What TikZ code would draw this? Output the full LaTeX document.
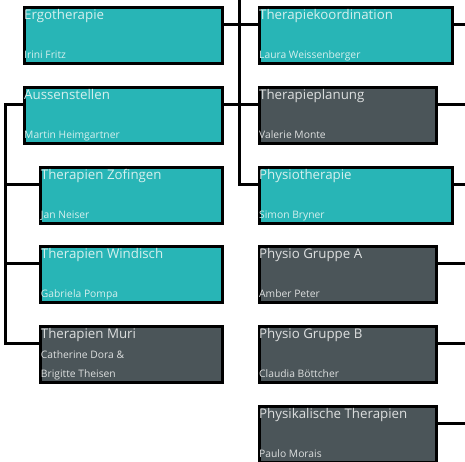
\documentclass[tikz,border=0pt]{standalone}
\usepackage{fontspec}
\setmainfont{Open Sans}
\definecolor{cTeal}{RGB}{40,181,182}
\definecolor{cGray}{RGB}{75,85,89}
\definecolor{cTealTxt}{RGB}{214,240,238}
\definecolor{cGrayTxt}{RGB}{222,224,224}
\tikzset{
  box/.style={draw=black, line width=3pt, rectangle, minimum height=56pt, inner sep=0pt, anchor=north west},
  tealbox/.style={fill=cTeal},
  graybox/.style={fill=cGray},
  tealtxt/.style={text=cTealTxt},
  graytxt/.style={text=cGrayTxt},
  titletxt/.style={anchor=base west, inner sep=0pt, font=\fontsize{13.3}{15}\selectfont},
  subtxt/.style={anchor=base west, inner sep=0pt, font=\fontsize{10.3}{12}\selectfont},
  conn/.style={line width=3pt, draw=black, line join=miter},
}
\newcommand\orgbox[7]{%
  \node[box,#5box,minimum width=#4pt] (#1) at (#2,#3) {};
  \node[titletxt,#5txt] (#1-t) at ([xshift=1.5pt,yshift=-13.5pt]#1.north west) {#6};
  \node[subtxt,#5txt] (#1-s) at ([xshift=1.5pt,yshift=-52.5pt]#1.north west) {#7};
}
\begin{document}
\begin{tikzpicture}[x=1pt,y=-1pt]
\useasboundingbox (0,0) rectangle (465,462);
\clip (0,0) rectangle (465,462);
% left column
\orgbox{ergo}{22.5}{6.5}{198.7}{teal}{Ergotherapie}{Irini Fritz}
\orgbox{aussen}{22.5}{86.1}{198.7}{teal}{Aussenstellen}{Martin Heimgartner}
\orgbox{zof}{39.2}{165.7}{182}{teal}{Therapien Zofingen}{Jan Neiser}
\orgbox{win}{39.2}{245.3}{182}{teal}{Therapien Windisch}{Gabriela Pompa}
\node[box,graybox,minimum width=182pt] (muri) at (39.2,324.9) {};
\node[titletxt,graytxt] (muri-t) at ([xshift=1.5pt,yshift=-13.5pt]muri.north west) {Therapien Muri};
\node[subtxt,graytxt] (muri-s1) at ([xshift=1.5pt,yshift=-33.5pt]muri.north west) {Catherine Dora \&};
\node[subtxt,graytxt] (muri-s2) at ([xshift=1.5pt,yshift=-52.5pt]muri.north west) {Brigitte Theisen};
% right column
\orgbox{koord}{257.5}{6.5}{193.7}{teal}{Therapiekoordination}{Laura Weissenberger}
\orgbox{plan}{257.5}{86.1}{177.7}{gray}{Therapieplanung}{Valerie Monte}
\orgbox{physio}{257.5}{165.7}{193.7}{teal}{Physiotherapie}{Simon Bryner}
\orgbox{ga}{257.5}{245.3}{177.7}{gray}{Physio Gruppe A}{Amber Peter}
\orgbox{gb}{257.5}{324.9}{177.7}{gray}{Physio Gruppe B}{Claudia Böttcher}
\orgbox{phk}{257.5}{404.5}{177.7}{gray}{Physikalische Therapien}{Paulo Morais}
% connector anchor points
\coordinate (trunkTop) at (239.3,-2);
\coordinate (leftX) at (5.8,0);
\coordinate (rightX) at (468,0);
\foreach \n in {ergo,aussen,koord,plan,physio,ga,gb,phk}{
  \coordinate (\n-ce) at ([yshift=-18.5pt]\n.north east);
}
\foreach \n in {aussen,zof,win,muri,koord,plan,physio}{
  \coordinate (\n-cw) at ([yshift=-18.5pt]\n.north west);
}
% middle trunk
\draw[conn] (ergo-ce) -- (koord-cw);
\draw[conn] (aussen-ce) -- (plan-cw);
\draw[conn] (trunkTop) |- (physio-cw);
% left trunk
\draw[conn] (aussen-cw) -- (aussen-cw -| leftX) -- (muri-cw -| leftX) -- (muri-cw);
\draw[conn] (zof-cw -| leftX) -- (zof-cw);
\draw[conn] (win-cw -| leftX) -- (win-cw);
% right stubs
\foreach \n in {koord,plan,physio,ga,gb,phk}{
  \draw[conn] (\n-ce) -- (\n-ce -| rightX);
}
\end{tikzpicture}
\end{document}
